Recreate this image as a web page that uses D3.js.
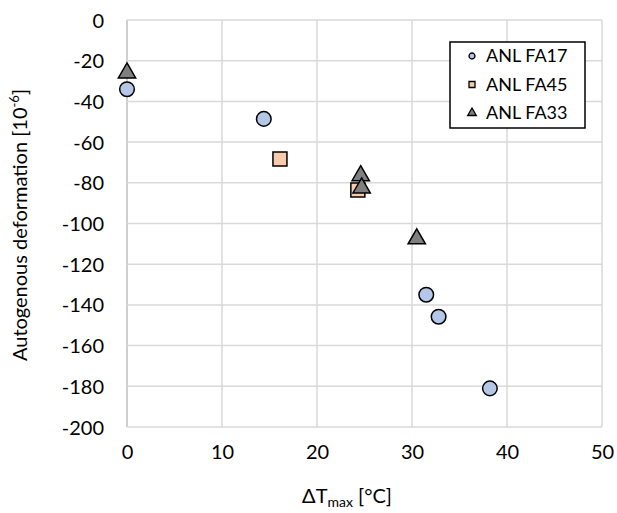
<!DOCTYPE html>
<html><head><meta charset="utf-8">
<script src="https://cdn.jsdelivr.net/npm/d3@7"></script>
<style>body{margin:0;background:#fff;} text{font-family:Lato,"Open Sans",sans-serif;fill:#000;}</style>
</head><body>
<svg id="c" width="617" height="513"></svg>
<script>
const seriesNames = ["ANL FA17", "ANL FA45", "ANL FA33"];
const fa17X = [0, 14.4, 31.5, 32.8, 38.2];
const fa17Y = [-34, -48.6, -135, -145.8, -181];
const fa45X = [16.1, 24.3];
const fa45Y = [-68.3, -83.5];
const fa33X = [0, 24.6, 24.7, 30.5];
const fa33Y = [-26, -76.5, -82.5, -107.5];
const xTicks = [0, 10, 20, 30, 40, 50];
const yTicks = [0, -20, -40, -60, -80, -100, -120, -140, -160, -180, -200];

const svg = d3.select("#c");
const L = 127, R = 602, T = 20, B = 427;
const x = d3.scaleLinear().domain([0, 50]).range([L, R]);
const y = d3.scaleLinear().domain([-200, 0]).range([B, T]);
const fmt = d => String(d);

// grid
const g = svg.append("g");
g.selectAll(".vx").data(xTicks).join("line")
  .attr("x1", d => x(d)).attr("x2", d => x(d)).attr("y1", T).attr("y2", B)
  .attr("stroke", d => d === 0 ? "#bfbfbf" : "#d9d9d9").attr("stroke-width", 1.5);
g.selectAll(".hy").data(yTicks).join("line")
  .attr("x1", L).attr("x2", R).attr("y1", d => y(d)).attr("y2", d => y(d))
  .attr("stroke", "#d9d9d9").attr("stroke-width", 1.5);

// axes labels via d3 axes
const xa = svg.append("g").attr("transform", `translate(0,${B})`)
  .call(d3.axisBottom(x).tickValues(xTicks).tickFormat(fmt).tickSize(0).tickPadding(25));
xa.select(".domain").remove();
xa.selectAll("text").attr("font-size", 20).style("font-family", "Lato, sans-serif").attr("fill", "#000").attr("dy", "0.35em");
const ya = svg.append("g").attr("transform", `translate(${L},0)`)
  .call(d3.axisLeft(y).tickValues(yTicks).tickFormat(fmt).tickSize(0).tickPadding(23));
ya.select(".domain").remove();
ya.selectAll("text").attr("font-size", 20).style("font-family", "Lato, sans-serif").attr("fill", "#000").attr("dy", "0.35em");

// titles
const xt = svg.append("text").attr("x", 347).attr("y", 503).attr("text-anchor", "middle").attr("font-size", 20);
xt.append("tspan").text("ΔT");
xt.append("tspan").attr("font-size", 14).attr("dy", 4).text("max");
xt.append("tspan").attr("dy", -4).text(" [°C]");
const yt = svg.append("text").attr("transform", "translate(27,225) rotate(-90)").attr("text-anchor", "middle").attr("font-size", 20);
yt.append("tspan").text("Autogenous deformation [10");
yt.append("tspan").attr("font-size", 13).attr("dy", -8).text("-6");
yt.append("tspan").attr("dy", 8).text("]");

const circ = d3.symbol().type(d3.symbolCircle);
const sq = d3.symbol().type(d3.symbolSquare);
const tri = d3.symbol().type(d3.symbolTriangle);

// markers
const mk = svg.append("g");
mk.selectAll(".a").data(fa17X.map((v, i) => [v, fa17Y[i]])).join("path")
  .attr("d", circ.size(Math.PI * 7.3 * 7.3)())
  .attr("transform", d => `translate(${x(d[0])},${y(d[1])})`)
  .attr("fill", "#b4c7e7").attr("stroke", "#000").attr("stroke-width", 1.5);
mk.selectAll(".b").data(fa45X.map((v, i) => [v, fa45Y[i]])).join("path")
  .attr("d", sq.size(14 * 14)())
  .attr("transform", d => `translate(${x(d[0])},${y(d[1])})`)
  .attr("fill", "#f8cbad").attr("stroke", "#000").attr("stroke-width", 1.5);
mk.selectAll(".c").data(fa33X.map((v, i) => [v, fa33Y[i]])).join("path")
  .attr("d", tri.size(130)())
  .attr("transform", d => `translate(${x(d[0])},${y(d[1])})`)
  .attr("fill", "#7f7f7f").attr("stroke", "#000").attr("stroke-width", 1.5);

// legend
const lg = svg.append("g");
lg.append("rect").attr("x", 450).attr("y", 42).attr("width", 135).attr("height", 86)
  .attr("fill", "#fff").attr("stroke", "#000").attr("stroke-width", 1.5);
const lgSyms = [circ.size(28)(), sq.size(36)(), tri.size(32)()];
const lgFill = ["#b4c7e7", "#f8cbad", "#7f7f7f"];
seriesNames.forEach((n, i) => {
  const cy = 56 + i * 28.5;
  lg.append("path").attr("d", lgSyms[i]).attr("transform", `translate(472,${cy})`)
    .attr("fill", lgFill[i]).attr("stroke", "#000").attr("stroke-width", 1.3);
  lg.append("text").attr("x", 486).attr("y", cy).attr("dy", "0.35em").attr("font-size", 18).text(n);
});
</script>
</body></html>
